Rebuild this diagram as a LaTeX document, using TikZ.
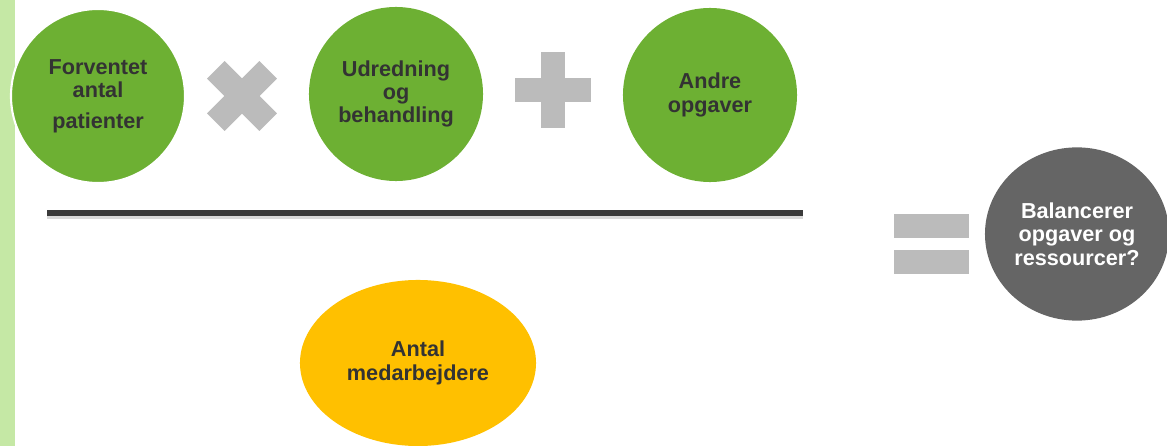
\documentclass[tikz,border=0pt]{standalone}
\usepackage{fontspec}
\setmainfont{Liberation Sans}
\usetikzlibrary{shapes.geometric,positioning}
\definecolor{ballgreen}{HTML}{6DB033}
\definecolor{ballyellow}{HTML}{FFC000}
\definecolor{ballgrey}{HTML}{656565}
\definecolor{opgrey}{HTML}{BBBBBB}
\definecolor{bargrey}{HTML}{3A3A3A}
\definecolor{txtgrey}{HTML}{333333}
\definecolor{stripgreen}{HTML}{C5E8A5}

\begin{document}
\begin{tikzpicture}[x=0.025cm,y=-0.025cm]
  \tikzset{Label/.style = {font=\fontsize{15.4}{16.6}\selectfont\bfseries,
                           text=txtgrey, align=center, inner sep=0pt}}
  \tikzset{Ball/.style = {Label, circle, fill=ballgreen, minimum size=4.35cm}}
  \tikzset{OpBar/.style = {rectangle, fill=opgrey, inner sep=0pt}}
  \useasboundingbox (0,0) rectangle (1167,446);
  \fill[stripgreen] (0,0) rectangle (15,446);

  % taeller
  \node[Ball, draw=white, line width=1.5pt] (Forv) at (98,96)
       {Forventet\\antal\\[5pt]patienter};
  \node[Ball] (Udred) at (396,94) {Udredning\\og\\behandling};
  \node[Ball] (Andre) at (710,95) {Andre\\opgaver};

  \node[OpBar, minimum width=1.85cm, minimum height=0.62cm, rotate=45] (GangA) at (242,96) {};
  \node[OpBar, minimum width=1.85cm, minimum height=0.62cm, rotate=-45] (GangB) at (242,96) {};
  \node[OpBar, minimum width=1.875cm, minimum height=0.6cm] (PlusA) at (553,90) {};
  \node[OpBar, minimum width=0.6cm, minimum height=1.875cm] (PlusB) at (553,90) {};

  % broekstreg
  \coordinate (BarL) at (47,213);
  \coordinate (BarR) at (803,213);
  \draw[black!25, line width=4pt, opacity=0.6] ([yshift=-2.5pt]BarL) -- ([yshift=-2.5pt]BarR);
  \draw[bargrey, line width=4.3pt] (BarL) -- (BarR);

  % naevner
  \node[Label, ellipse, fill=ballyellow, minimum width=5.9cm, minimum height=4.15cm]
       (Medarb) at (418,363) {Antal\\medarbejdere};

  % resultat
  \node[OpBar, minimum width=1.875cm, minimum height=0.6cm] (LigA) at (931.5,226) {};
  \node[OpBar, minimum width=1.875cm, minimum height=0.6cm] (LigB) at (931.5,262) {};
  \node[Label, ellipse, fill=ballgrey, text=white, minimum width=4.6cm, minimum height=4.33cm]
       (Balance) at (1077,234) {Balancerer\\opgaver og\\ressourcer?};
\end{tikzpicture}
\end{document}
